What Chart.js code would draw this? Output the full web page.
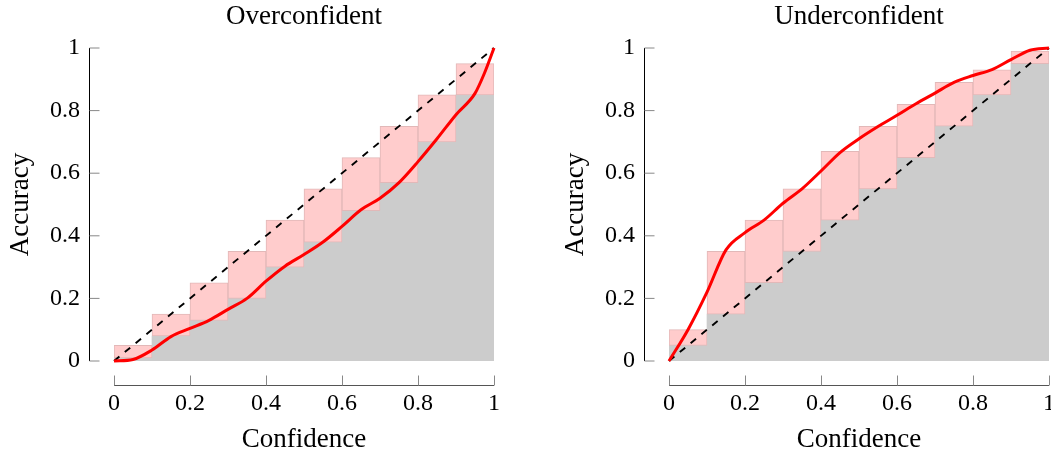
<!DOCTYPE html>
<html><head><meta charset="utf-8">
<script src="https://cdn.jsdelivr.net/npm/chart.js@4.4.0/dist/chart.umd.min.js"></script>
<style>
html,body{margin:0;padding:0;background:#fff;overflow:hidden;width:1051px;height:457px;position:relative;}
canvas{position:absolute;top:0;}
#c1{left:0}
#c2{left:555px}
</style></head><body>
<canvas id="c1" width="525" height="457"></canvas>
<canvas id="c2" width="525" height="457"></canvas>
<script>
// ---- data ----
const panelTitles = ['Overconfident', 'Underconfident'];
const binCenters = [0.05, 0.15, 0.25, 0.35, 0.45, 0.55, 0.65, 0.75, 0.85, 0.95];
const overconfidentAccuracy = [0.01, 0.08, 0.13, 0.20, 0.30, 0.38, 0.48, 0.57, 0.70, 0.85];
const underconfidentAccuracy = [0.10, 0.35, 0.45, 0.55, 0.67, 0.75, 0.82, 0.89, 0.93, 0.99];
const overCurveX = [0, 0.05, 0.1, 0.15, 0.2, 0.25, 0.3, 0.35, 0.4, 0.45, 0.5, 0.55, 0.6, 0.65, 0.7, 0.75, 0.8, 0.85, 0.9, 0.95, 0.975, 1];
const overCurveY = [0, 0.005, 0.035, 0.078, 0.104, 0.13, 0.165, 0.2, 0.255, 0.303, 0.34, 0.38, 0.43, 0.483, 0.52, 0.57, 0.637, 0.71, 0.787, 0.855, 0.92, 1];
const underCurveX = [0, 0.05, 0.1, 0.15, 0.2, 0.25, 0.3, 0.35, 0.4, 0.45, 0.5, 0.55, 0.6, 0.65, 0.7, 0.75, 0.8, 0.85, 0.9, 0.95, 1];
const underCurveY = [0, 0.10, 0.22, 0.355, 0.41, 0.45, 0.504, 0.55, 0.607, 0.666, 0.71, 0.749, 0.785, 0.822, 0.856, 0.89, 0.912, 0.931, 0.963, 0.993, 1];
const diagonalX = [0, 1];
const diagonalY = [0, 1];
const tickValues = [0, 0.2, 0.4, 0.6, 0.8, 1];
const xLabel = 'Confidence';
const yLabel = 'Accuracy';

const FONT = "'Liberation Serif', 'DejaVu Serif', serif";

const axesPlugin = {
  id: 'tuftAxes',
  afterDraw(chart) {
    const {ctx} = chart;
    const xs = chart.scales.x, ys = chart.scales.y;
    const x0 = xs.getPixelForValue(0), x1 = xs.getPixelForValue(1);
    const y0 = ys.getPixelForValue(0), y1 = ys.getPixelForValue(1);
    const axX = Math.round(x0 - 24) - 0.5;
    const axY = Math.round(y0 + 24) + 0.5;
    ctx.save();
    ctx.lineWidth = 1;
    // y axis line
    ctx.strokeStyle = '#000';
    ctx.beginPath(); ctx.moveTo(axX, y1); ctx.lineTo(axX, y0); ctx.stroke();
    // x axis line
    ctx.strokeStyle = '#555';
    ctx.beginPath(); ctx.moveTo(x0, axY); ctx.lineTo(x1, axY); ctx.stroke();
    // ticks
    ctx.strokeStyle = '#888';
    ctx.beginPath();
    ys.ticks.forEach(t => {
      const p = ys.getPixelForValue(t.value);
      ctx.moveTo(axX, p); ctx.lineTo(axX + 10, p);
    });
    xs.ticks.forEach(t => {
      const p = Math.round(xs.getPixelForValue(t.value)) + 0.5;
      ctx.moveTo(p, axY); ctx.lineTo(p, axY - 10);
    });
    ctx.stroke();
    ctx.restore();
  }
};

function makeChart(id, title, accuracy, curveX, curveY) {
  const gray = binCenters.map((c, i) => ({x: c, y: [0, Math.min(c, accuracy[i])]}));
  const gap = binCenters.map((c, i) => ({x: c, y: [Math.min(c, accuracy[i]), Math.max(c, accuracy[i])]}));
  const curve = curveX.map((x, i) => ({x, y: curveY[i]}));
  const diag = diagonalX.map((x, i) => ({x, y: diagonalY[i]}));
  const fmt = v => String(Math.round(v * 10) / 10);
  return new Chart(document.getElementById(id), {
    type: 'bar',
    data: {
      datasets: [
        {type: 'line', data: curve, borderColor: '#ff0000', borderWidth: 3, pointRadius: 0,
         cubicInterpolationMode: 'monotone', fill: false, clip: false, order: 1},
        {type: 'line', data: diag, borderColor: '#000', borderWidth: 1.9, borderDash: [7, 7],
         pointRadius: 0, fill: false, clip: false, order: 2},
        {type: 'bar', data: gap, backgroundColor: '#ffcccc', borderColor: '#e2b8b8', borderWidth: 1,
         borderSkipped: false, grouped: false, barPercentage: 1, categoryPercentage: 1, order: 3},
        {type: 'bar', data: gray, backgroundColor: '#cccccc', borderWidth: 0,
         grouped: false, barPercentage: 1, categoryPercentage: 1, order: 4}
      ]
    },
    options: {
      responsive: false,
      animation: false,
      devicePixelRatio: 1,
      layout: {padding: {left: 0, right: 31, top: 0, bottom: 0}},
      plugins: {
        legend: {display: false},
        tooltip: {enabled: false},
        title: {display: true, text: title, fullSize: false, color: '#000',
                font: {family: FONT, size: 27, weight: 'normal'}, padding: {top: 1, bottom: 14.6}}
      },
      scales: {
        x: {
          type: 'linear', min: 0, max: 1, offset: false,
          grid: {display: false, drawTicks: true, tickLength: 26, offset: false}, border: {display: false},
          ticks: {color: '#000', font: {family: FONT, size: 24}, padding: 2, callback: fmt, maxRotation: 0},
          title: {display: true, text: xLabel, color: '#000', font: {family: FONT, size: 27}, padding: {top: 0, bottom: 1}},
          afterBuildTicks(s) { s.ticks = tickValues.map(v => ({value: v})); },
          afterFit(s) { s.height = 96; }
        },
        y: {
          type: 'linear', min: 0, max: 1,
          grid: {display: false, drawTicks: true, tickLength: 32}, border: {display: false},
          ticks: {color: '#000', font: {family: FONT, size: 24}, padding: 2, callback: fmt},
          title: {display: true, text: yLabel, color: '#000', font: {family: FONT, size: 27}, padding: {top: 5, bottom: 0}},
          afterBuildTicks(s) { s.ticks = tickValues.map(v => ({value: v})); },
          afterFit(s) { s.width = 114; }
        }
      }
    },
    plugins: [axesPlugin]
  });
}

makeChart('c1', panelTitles[0], overconfidentAccuracy, overCurveX, overCurveY);
makeChart('c2', panelTitles[1], underconfidentAccuracy, underCurveX, underCurveY);
</script>
</body></html>
